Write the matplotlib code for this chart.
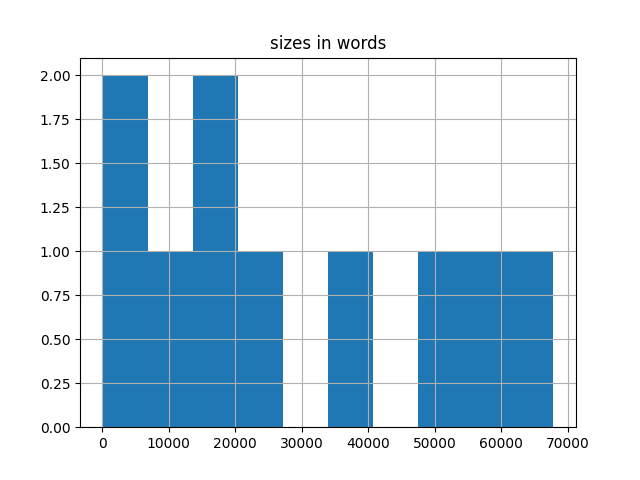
import matplotlib
matplotlib.use("Agg")
import matplotlib.pyplot as plt
import pandas as pd

# word counts per document
sizes = [40, 4500, 9800, 15200, 18600, 24300, 37500, 51000, 57800, 67850]

df = pd.DataFrame({"sizes in words": sizes})

fig, ax = plt.subplots(figsize=(6.4, 4.8), dpi=100)
df.hist(column="sizes in words", bins=10, ax=ax)
fig.savefig("out.png")
